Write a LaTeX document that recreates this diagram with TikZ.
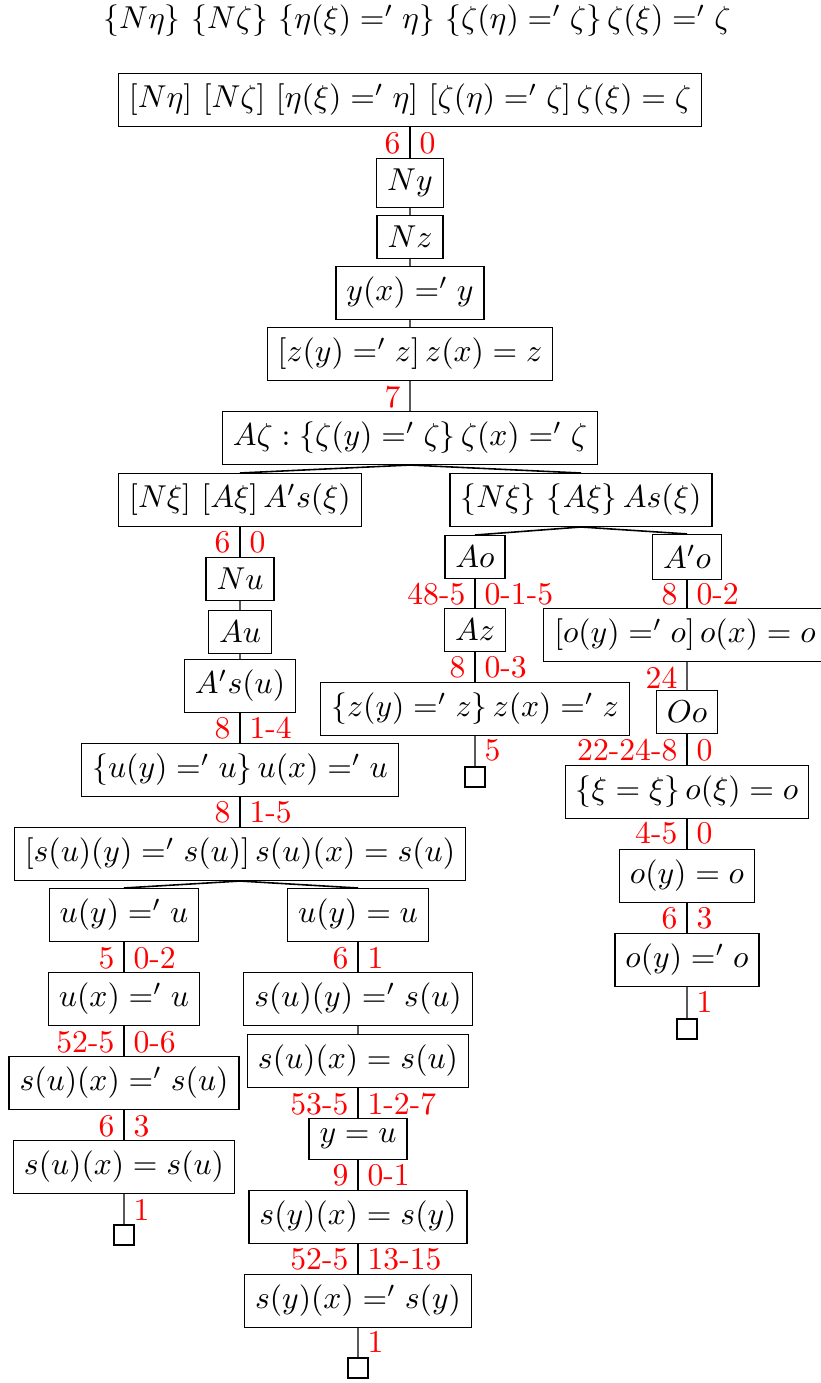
\documentclass[tikz,border=0pt]{standalone}
\begin{document}
\begin{tikzpicture}[x=0.316pt,y=-0.316pt,
  box/.style={draw, line width=0.4pt, inner sep=0.3333em},
  lab/.style={text=red, inner sep=0pt},
  labl/.style={lab, anchor=east},
  labr/.style={lab, anchor=west},
  leaf/.style={draw, line width=0.4pt, minimum size=6.3pt, inner sep=0pt},
  strong/.style={line width=0.5pt, black},
  weak/.style={line width=0.4pt, black!65}]
\useasboundingbox (0,0) rectangle (821,1383);
% title
\node (title) at (417,21) {$\{N\eta\}\ \{N\zeta\}\ \{\eta(\xi) =' \eta\}\ \{\zeta(\eta) =' \zeta\}\, \zeta(\xi) =' \zeta$};
% main trunk
\node[box] (r) at (410,100) {$[N\eta]\ [N\zeta]\ [\eta(\xi) =' \eta]\ [\zeta(\eta) =' \zeta]\, \zeta(\xi) = \zeta$};
\node[box] (ny) at (410,183) {$Ny$};
\node[box] (nz) at (410,237) {$Nz$};
\node[box] (yx) at (410,293) {$y(x) =' y$};
\node[box] (zy) at (410,354) {$[z(y) =' z]\, z(x) = z$};
\node[box] (az) at (410,438) {$A\zeta : \{\zeta(y) =' \zeta\}\, \zeta(x) =' \zeta$};
\node[box] (L) at (240,500) {$[N\xi]\ [A\xi]\, A's(\xi)$};
\node[box] (R) at (581,500) {$\{N\xi\}\ \{A\xi\}\, As(\xi)$};
% left branch
\node[box] (nu) at (240,579) {$Nu$};
\node[box] (au) at (240,632) {$Au$};
\node[box] (asu) at (240,686) {$A's(u)$};
\node[box] (uy) at (240,770) {$\{u(y) =' u\}\, u(x) =' u$};
\node[box] (su) at (240,854) {$[s(u)(y) =' s(u)]\, s(u)(x) = s(u)$};
\node[box] (LL1) at (124,915) {$u(y) =' u$};
\node[box] (LR1) at (358,915) {$u(y) = u$};
\node[box] (LL2) at (124,999) {$u(x) =' u$};
\node[box] (LL3) at (124,1083) {$s(u)(x) =' s(u)$};
\node[box] (LL4) at (124,1167) {$s(u)(x) = s(u)$};
\node[leaf] (LLe) at (124,1235) {};
\node[box] (LR2) at (358,999) {$s(u)(y) =' s(u)$};
\node[box] (LR3) at (358,1061) {$s(u)(x) = s(u)$};
\node[box] (LR4) at (358,1139) {$y = u$};
\node[box] (LR5) at (358,1217) {$s(y)(x) = s(y)$};
\node[box] (LR6) at (358,1301) {$s(y)(x) =' s(y)$};
\node[leaf] (LRe) at (358,1368) {};
% right branch
\node[box] (ao) at (475,557) {$Ao$};
\node[box] (azz) at (475,630) {$Az$};
\node[box] (zz) at (475,709) {$\{z(y) =' z\}\, z(x) =' z$};
\node[leaf] (zze) at (475,777) {};
\node[box] (apo) at (687,557) {$A'o$};
\node[box] (oo1) at (685,635) {$[o(y) =' o]\, o(x) = o$};
\node[box] (oo) at (687,712) {$Oo$};
\node[box] (xi) at (687,792) {$\{\xi = \xi\}\, o(\xi) = o$};
\node[box] (oy) at (687,876) {$o(y) = o$};
\node[box] (oy2) at (687,960) {$o(y) =' o$};
\node[leaf] (oye) at (687,1029) {};
% edges
\draw[strong] (r.south) -- (ny.north);
\draw[weak] (ny.south) -- (nz.north);
\draw[weak] (nz.south) -- (yx.north);
\draw[weak] (yx.south) -- (zy.north);
\draw[weak] (zy.south) -- (az.north);
\draw[strong] (L.north) -- (az.south) -- (R.north);
\draw[strong] (L.south) -- (nu.north);
\draw[weak] (nu.south) -- (au.north);
\draw[weak] (au.south) -- (asu.north);
\draw[strong] (asu.south) -- (uy.north);
\draw[strong] (uy.south) -- (su.north);
\draw[strong] (LL1.north) -- (su.south) -- (LR1.north);
\draw[strong] (LL1.south) -- (LL2.north);
\draw[strong] (LL2.south) -- (LL3.north);
\draw[strong] (LL3.south) -- (LL4.north);
\draw[weak] (LL4.south) -- (LLe.north);
\draw[strong] (LR1.south) -- (LR2.north);
\draw[weak] (LR2.south) -- (LR3.north);
\draw[strong] (LR3.south) -- (LR4.north);
\draw[strong] (LR4.south) -- (LR5.north);
\draw[strong] (LR5.south) -- (LR6.north);
\draw[weak] (LR6.south) -- (LRe.north);
\draw[strong] (ao.north) -- (R.south) -- (apo.north);
\draw[strong] (ao.south) -- (azz.north);
\draw[strong] (azz.south) -- (zz.north);
\draw[weak] (zz.south) -- (zze.north);
\draw[strong] (apo.south) -- (apo.south |- oo1.north);
\draw[weak] (oo.north |- oo1.south) -- (oo.north);
\draw[strong] (oo.south) -- (xi.north);
\draw[strong] (xi.south) -- (oy.north);
\draw[strong] (oy.south) -- (oy2.north);
\draw[weak] (oy2.south) -- (oye.north);
% labels
\node[labl] (a1) at (401,143) {6}; \node[labr] (b1) at (419,143) {0};
\node[labl] (a2) at (401,397) {7};
\node[labl] (a3) at (231,542) {6}; \node[labr] (b3) at (249,542) {0};
\node[labl] (a4) at (231,728) {8}; \node[labr] (b4) at (249,728) {1-4};
\node[labl] (a5) at (231,812) {8}; \node[labr] (b5) at (249,812) {1-5};
\node[labl] (a6) at (115,958) {5}; \node[labr] (b6) at (133,958) {0-2};
\node[labl] (a7) at (115,1042) {52-5}; \node[labr] (b7) at (133,1042) {0-6};
\node[labl] (a8) at (115,1126) {6}; \node[labr] (b8) at (133,1126) {3};
\node[labr] (b9) at (133,1210) {1};
\node[labl] (a10) at (349,958) {6}; \node[labr] (b10) at (367,958) {1};
\node[labl] (a11) at (349,1104) {53-5}; \node[labr] (b11) at (367,1104) {1-2-7};
\node[labl] (a12) at (349,1175) {9}; \node[labr] (b12) at (367,1175) {0-1};
\node[labl] (a13) at (349,1259) {52-5}; \node[labr] (b13) at (367,1259) {13-15};
\node[labr] (b14) at (367,1342) {1};
\node[labl] (a15) at (466,594) {48-5}; \node[labr] (b15) at (484,594) {0-1-5};
\node[labl] (a16) at (466,667) {8}; \node[labr] (b16) at (484,667) {0-3};
\node[labr] (b17) at (484,750) {5};
\node[labl] (a18) at (678,594) {8}; \node[labr] (b18) at (696,594) {0-2};
\node[labl] (a19) at (678,678) {24};
\node[labl] (a20) at (678,750) {22-24-8}; \node[labr] (b20) at (696,750) {0};
\node[labl] (a21) at (678,833) {4-5}; \node[labr] (b21) at (696,833) {0};
\node[labl] (a22) at (678,918) {6}; \node[labr] (b22) at (696,918) {3};
\node[labr] (b23) at (696,1002) {1};
\end{tikzpicture}
\end{document}
